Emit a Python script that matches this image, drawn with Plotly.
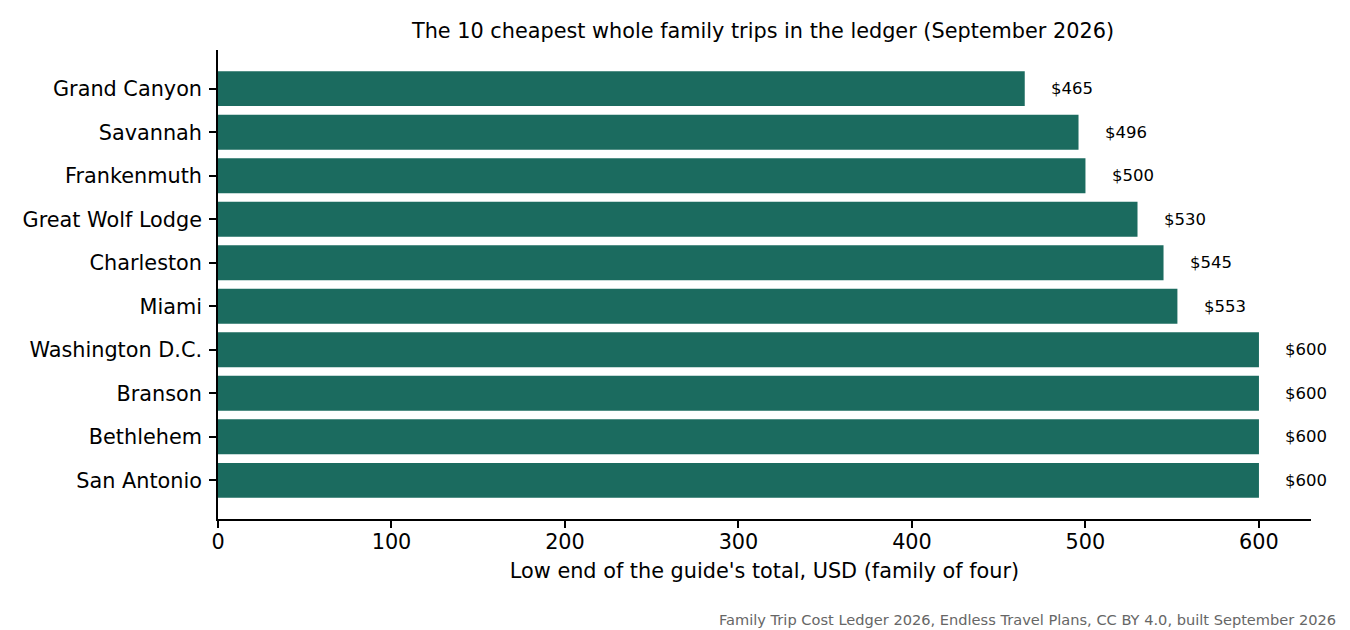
import plotly.graph_objects as go

# Data, top to bottom as drawn
destinations = ["Grand Canyon", "Savannah", "Frankenmuth", "Great Wolf Lodge", "Charleston",
                "Miami", "Washington D.C.", "Branson", "Bethlehem", "San Antonio"]
low_cost_usd = [465, 496, 500, 530, 545, 553, 600, 600, 600, 600]
value_labels = ["$465", "$496", "$500", "$530", "$545", "$553", "$600", "$600", "$600", "$600"]

x_ticks = [0, 100, 200, 300, 400, 500, 600]

BAR_COLOR = "#1b6b5f"
FONT = "DejaVu Sans"

# plot box in figure pixels (page has an 8px body margin)
L, R, T, B = 210, 47, 42, 119
PLOT_W = 1350 - L - R

fig = go.Figure()

fig.add_trace(
    go.Bar(
        x=low_cost_usd,
        y=destinations,
        orientation="h",
        width=0.8,
        marker=dict(color=BAR_COLOR, line=dict(width=0)),
        hovertemplate="%{y}: %{x}<extra></extra>",
    )
)

# value labels just past the end of each bar
for name, val, lab in zip(destinations, low_cost_usd, value_labels):
    fig.add_annotation(
        x=val + 14, y=name, text=lab, showarrow=False,
        xanchor="left", yanchor="middle",
        font=dict(family=FONT, size=16.5, color="#000000"),
    )

fig.add_annotation(
    text="Family Trip Cost Ledger 2026, Endless Travel Plans, CC BY 4.0, built September 2026",
    xref="paper", yref="paper", x=(1330 - L) / PLOT_W, y=0, yshift=-100,
    xanchor="right", yanchor="middle", showarrow=False,
    font=dict(family=FONT, size=14.6, color="#666666"),
)

fig.update_layout(
    width=1350,
    height=630,
    margin=dict(l=L, r=R, t=T, b=B),
    paper_bgcolor="white",
    plot_bgcolor="white",
    showlegend=False,
    font=dict(family=FONT, size=20.8, color="#000000"),
    title=dict(
        text="The 10 cheapest whole family trips in the ledger (September 2026)",
        x=755 / 1350, xanchor="center",
        y=1 - 23 / 630, yanchor="middle",
        font=dict(family=FONT, size=20.8, color="#000000"),
    ),
    xaxis=dict(
        range=[0, 630],
        tickmode="array",
        tickvals=x_ticks,
        ticktext=[str(t) for t in x_ticks],
        showgrid=False,
        zeroline=False,
        showline=True,
        linecolor="#000000",
        linewidth=1.6,
        ticks="outside",
        ticklen=7,
        tickwidth=1.6,
        tickcolor="#000000",
        ticklabelstandoff=-4,
        tickfont=dict(family=FONT, size=20.8),
        title=dict(text="Low end of the guide's total, USD (family of four)",
                   font=dict(family=FONT, size=20.8), standoff=11),
    ),
    yaxis=dict(
        categoryorder="array",
        categoryarray=destinations[::-1],
        range=[-0.89, 9.89],
        showgrid=False,
        zeroline=False,
        showline=True,
        linecolor="#000000",
        linewidth=1.6,
        ticks="outside",
        ticklen=7,
        tickwidth=1.6,
        tickcolor="#000000",
        ticklabelstandoff=3,
        tickfont=dict(family=FONT, size=20.8),
    ),
)

fig.write_html("out.html")
